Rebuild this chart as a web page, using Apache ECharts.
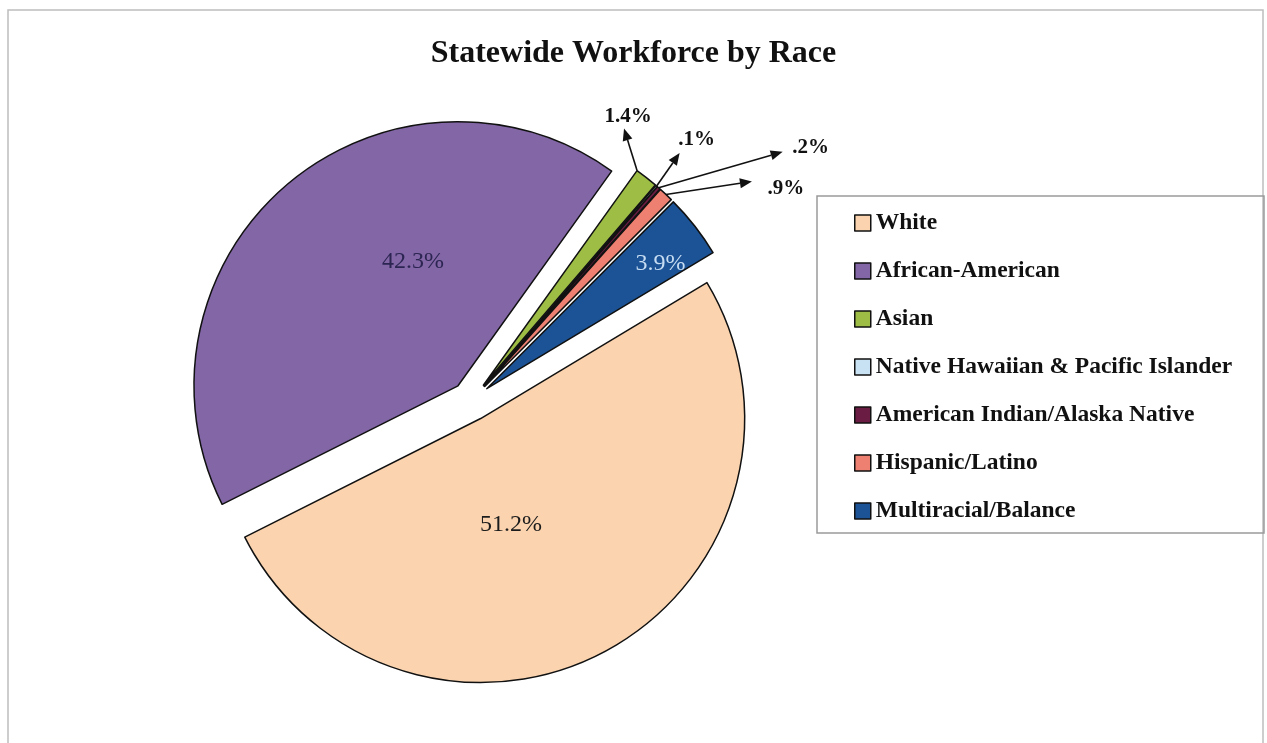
<!DOCTYPE html>
<html>
<head>
<meta charset="utf-8">
<script src="https://cdn.jsdelivr.net/npm/echarts@6/dist/echarts.min.js"></script>
<style>
  html, body { margin: 0; padding: 0; background: #ffffff; }
  #chart { width: 1267px; height: 743px; }
</style>
</head>
<body>
<div id="chart"></div>
<script>
// Workforce shares by race (percent of statewide workforce)
const categories = [
  'White',
  'African-American',
  'Asian',
  'Native Hawaiian & Pacific Islander',
  'American Indian/Alaska Native',
  'Hispanic/Latino',
  'Multiracial/Balance'
];
const shares = [51.2, 42.3, 1.4, 0.1, 0.2, 0.9, 3.9];

// Slice fills
const sliceColors = ['#FBD4AF', '#8266A6', '#9DBD45', '#C8E2F3', '#6A1C42', '#EE8072', '#1B5396'];

// Percent labels drawn inside their slice: t = position along the arc (0..1), r = fraction of radius
const insideLabelStyle = {
  0: { t: 0.57, r: 0.42, color: '#1c1c1c' },
  1: { t: 0.635, r: 0.50, color: '#2c2552' },
  6: { t: 0.665, r: 0.81, color: '#c6dcf2' }
};
// Callout labels with arrows for the thin slices: arrow vector and text offset from the arrow tip
const calloutStyle = {
  2: { t: 0.0, vec: [-13, -42], text: [4, -12] },
  3: { t: 0.5, vec: [23, -33], text: [17, -14] },
  4: { t: 0.5, vec: [124, -36], text: [28, -4] },
  5: { t: 0.5, vec: [86, -13], text: [34, 7] }
};

const SERIF = "'Liberation Serif', 'Times New Roman', serif";
const PIE_CENTER = [471, 401];
const PIE_RADIUS = 264;
const START_ANGLE = 31;
const EXPLODE = 20;

function fmtShare(v) {
  const s = v < 1 ? String(v).replace(/^0/, '') : v.toFixed(1);
  return s + '%';
}

const chart = echarts.init(document.getElementById('chart'), null, { renderer: 'canvas' });

chart.setOption({
  animation: false,
  backgroundColor: '#ffffff',
  title: {
    text: 'Statewide Workforce by Race',
    left: 'center',
    top: 38,
    padding: 0,
    textStyle: { fontFamily: SERIF, fontWeight: 'bold', fontSize: 32, color: '#111' }
  },
  legend: {
    orient: 'vertical',
    left: 854,
    top: 211,
    padding: 0,
    itemWidth: 16,
    itemHeight: 16,
    itemGap: 24,
    icon: 'rect',
    selectedMode: false,
    itemStyle: { borderColor: '#111', borderWidth: 1.5 },
    textStyle: { fontFamily: SERIF, fontWeight: 'bold', fontSize: 23.5, lineHeight: 22, color: '#111' },
    data: categories
  },
  series: [{
    type: 'pie',
    center: PIE_CENTER,
    radius: PIE_RADIUS,
    startAngle: START_ANGLE,
    clockwise: true,
    selectedMode: 'multiple',
    selectedOffset: EXPLODE,
    emphasis: { disabled: true },
    label: { show: false },
    labelLine: { show: false },
    itemStyle: { borderColor: '#111', borderWidth: 1.5 },
    data: categories.map((name, i) => ({
      name: name,
      value: shares[i],
      selected: true,
      itemStyle: { color: sliceColors[i] }
    }))
  }]
});

// Slice geometry as laid out by the pie series (angles in canvas radians), shifted by the explode offset
function sliceGeometry() {
  let layouts = null;
  try {
    const data = chart.getModel().getSeriesByIndex(0).getData();
    layouts = shares.map((_, i) => data.getItemLayout(i));
    if (layouts.some(l => !l || l.startAngle == null)) layouts = null;
  } catch (e) { layouts = null; }
  if (!layouts) {
    const total = shares.reduce((a, b) => a + b, 0);
    let a = -START_ANGLE * Math.PI / 180;
    layouts = shares.map(v => {
      const a0 = a; a += v / total * Math.PI * 2;
      return { cx: PIE_CENTER[0], cy: PIE_CENTER[1], r: PIE_RADIUS, startAngle: a0, endAngle: a };
    });
  }
  return layouts.map(l => {
    const mid = (l.startAngle + l.endAngle) / 2;
    return {
      cx: l.cx + Math.cos(mid) * EXPLODE,
      cy: l.cy + Math.sin(mid) * EXPLODE,
      r: l.r, a0: l.startAngle, a1: l.endAngle
    };
  });
}

function pointIn(g, t, rf) {
  const a = g.a0 + (g.a1 - g.a0) * t;
  return [g.cx + Math.cos(a) * g.r * rf, g.cy + Math.sin(a) * g.r * rf];
}

const geo = sliceGeometry();
const graphics = [];

// chart frame and legend frame
graphics.push({
  type: 'rect', silent: true, z: -1,
  shape: { x: 8, y: 10, width: 1255, height: 745 },
  style: { fill: null, stroke: '#bdbdbd', lineWidth: 1.5 }
});
graphics.push({
  type: 'rect', silent: true, z: -1,
  shape: { x: 817, y: 196, width: 447, height: 337 },
  style: { fill: null, stroke: '#9a9a9a', lineWidth: 1.5 }
});

// value labels inside the large slices
Object.keys(insideLabelStyle).forEach(k => {
  const i = +k, s = insideLabelStyle[k];
  const p = pointIn(geo[i], s.t, s.r);
  graphics.push({
    type: 'text', silent: true, z: 10,
    x: p[0], y: p[1],
    style: {
      text: fmtShare(shares[i]),
      font: '24px ' + SERIF,
      fill: s.color,
      textAlign: 'center', textVerticalAlign: 'middle'
    }
  });
});

// arrow callouts for the thin slices
Object.keys(calloutStyle).forEach(k => {
  const i = +k, s = calloutStyle[k];
  const p0 = pointIn(geo[i], s.t, 1);
  const tip = [p0[0] + s.vec[0], p0[1] + s.vec[1]];
  const len = Math.hypot(s.vec[0], s.vec[1]);
  const ux = s.vec[0] / len, uy = s.vec[1] / len;
  const headL = 12, headW = 5;
  const base = [tip[0] - ux * headL, tip[1] - uy * headL];
  graphics.push({
    type: 'line', silent: true, z: 10,
    shape: { x1: p0[0], y1: p0[1], x2: base[0], y2: base[1] },
    style: { stroke: '#111', lineWidth: 1.6 }
  });
  graphics.push({
    type: 'polygon', silent: true, z: 10,
    shape: { points: [
      tip,
      [base[0] - uy * headW, base[1] + ux * headW],
      [base[0] + uy * headW, base[1] - ux * headW]
    ] },
    style: { fill: '#111' }
  });
  graphics.push({
    type: 'text', silent: true, z: 10,
    x: tip[0] + s.text[0], y: tip[1] + s.text[1],
    style: {
      text: fmtShare(shares[i]),
      font: 'bold 21px ' + SERIF,
      fill: '#111',
      textAlign: 'center', textVerticalAlign: 'middle'
    }
  });
});

chart.setOption({ graphic: graphics });
</script>
</body>
</html>
